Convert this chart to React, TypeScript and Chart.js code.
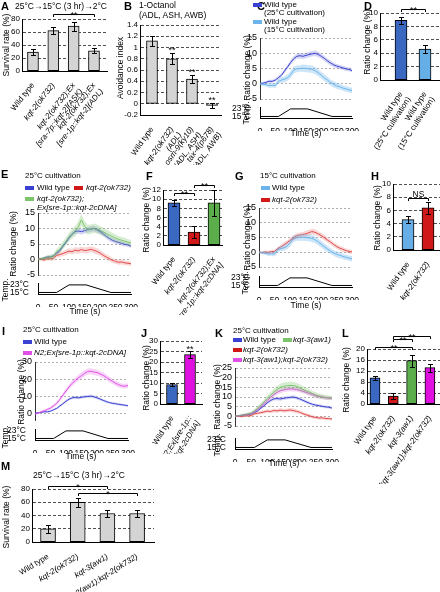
import React, { useEffect, useRef } from "react";
import { Chart, registerables } from "chart.js";

Chart.register(...registerables);

const FONT = '"Liberation Sans", Arial, Helvetica, sans-serif';
Chart.defaults.font.family = FONT;
Chart.defaults.font.size = 8;
Chart.defaults.color = "#000";

// ---------------- data ----------------
// Panel A
const aLabels = ["Wild type", "kqt-2(ok732)", ["kqt-2(ok732);Ex", "[sra-7p::kqt-2](ASK)"], ["kqt-2(ok732);Ex", "[sre-1p::kqt-2](ADL)"]];
const aItalic = [false, true, true, true];
const aValues = [29, 62, 69, 31];
const aErrors = [5, 5, 7, 4];
const aTicks = [0, 20, 40, 60, 80];
// Panel B
const bLabels = ["Wild type", ["kqt-2(ok732)", "(ADL)"], ["osm-9(ky10)", "(ADL, ASH)"], ["tax-4(p678)", "(ADL, AWB)"]];
const bItalic = [false, true, true, true];
const bValues = [1.12, 0.8, 0.44, -0.03];
const bErrors = [0.09, 0.1, 0.07, 0.05];
const bTicks = [-0.2, 0, 0.2, 0.4, 0.6, 0.8, 1, 1.2, 1.4];
// Panel D
const dLabels = [["Wild type", "(25°C cultivation)"], ["Wild type", "(15°C cultivation)"]];
const dItalic = [false, false];
const dValues = [8.9, 4.6];
const dErrors = [0.55, 0.6];
const dTicks = [0, 2, 4, 6, 8, 10];
// Panel F
const fLabels = ["Wild type", "kqt-2(ok732)", ["kqt-2(ok732);Ex", "[sre-1p::kqt-2cDNA]"]];
const fItalic = [false, true, true];
const fValues = [9.2, 2.8, 9.2];
const fErrors = [0.6, 1.3, 2.8];
const fTicks = [0, 2, 4, 6, 8, 10, 12];
// Panel H
const hLabels = ["Wild type", "kqt-2(ok732)"];
const hItalic = [false, true];
const hValues = [4.6, 6.4];
const hErrors = [0.5, 0.9];
const hTicks = [0, 2, 4, 6, 8, 10];
// Panel J
const jLabels = ["Wild type", ["N2;Ex[sre-1p::", "kqt-2cDNA]"]];
const jItalic = [false, true];
const jValues = [9.3, 23.5];
const jErrors = [0.5, 1.8];
const jTicks = [0, 5, 10, 15, 20, 25, 30];
// Panel L
const lLabels = ["Wild type", "kqt-2(ok732)", "kqt-3(aw1)", "kqt-3(aw1);kqt-2(ok732)"];
const lItalic = [false, true, true, true];
const lValues = [9.5, 2.9, 15.8, 13.2];
const lErrors = [0.6, 1.2, 2.2, 1.5];
const lTicks = [0, 4, 8, 12, 16, 20];
// Panel M
const mLabels = ["Wild type", "kqt-2(ok732)", "kqt-3(aw1)", "kqt-3(aw1);kqt-2(ok732)"];
const mItalic = [false, true, true, true];
const mValues = [20, 60, 43, 43];
const mErrors = [6, 7, 5, 5];
const mTicks = [0, 20, 40, 60, 80];

// Calcium imaging traces (time in s)
const timeS = [0, 10, 20, 30, 40, 50, 60, 70, 80, 90, 100, 110, 120, 130, 140, 150, 160, 170, 180, 190, 200, 210, 220, 230, 240, 250, 260, 270, 280, 290, 300];
const wt25Mean = [0, 0.2, 0.5, 0.8, 0.8, 1.2, 2.0, 2.8, 4.2, 5.5, 7.0, 8.2, 9.0, 9.2, 9.0, 9.3, 9.6, 9.8, 10.0, 9.6, 9.0, 8.3, 7.5, 6.8, 6.2, 5.8, 5.5, 5.2, 4.9, 4.7, 4.3];
const wt25Sem = [0.3, 0.4, 0.4, 0.5, 0.5, 0.5, 0.6, 0.6, 0.7, 0.7, 0.8, 0.8, 0.8, 0.9, 0.9, 0.9, 0.9, 0.9, 0.9, 0.9, 0.8, 0.8, 0.8, 0.8, 0.7, 0.7, 0.7, 0.7, 0.7, 0.6, 0.6];
const wt15Mean = [0, -0.2, -0.3, -0.6, -0.5, -0.6, 0.8, 1.2, 1.5, 2.0, 3.0, 4.5, 4.9, 5.0, 5.1, 5.0, 4.9, 4.7, 4.3, 3.6, 2.8, 1.9, 1.2, 0.4, -0.2, -0.7, -1.0, -1.4, -1.7, -2.0, -2.2];
const wt15Sem = [0.3, 0.5, 0.6, 0.7, 0.7, 0.8, 0.8, 0.9, 1.0, 1.0, 1.1, 1.1, 1.1, 1.1, 1.2, 1.2, 1.2, 1.2, 1.2, 1.1, 1.1, 1.1, 1.1, 1.0, 1.0, 1.0, 1.0, 0.9, 0.9, 0.9, 0.9];
const kqt2Mean = [0, 0.1, -0.2, 0.3, 0.2, 0.4, 1.3, 1.6, 1.9, 2.3, 2.7, 2.5, 3.0, 2.8, 3.2, 2.9, 3.0, 3.3, 3.0, 2.6, 2.1, 1.4, 0.8, 0.3, -0.3, -0.6, -0.9, -0.8, -1.1, -1.2, -1.4];
const kqt2Sem = [0.3, 0.4, 0.5, 0.6, 0.6, 0.7, 0.7, 0.8, 0.8, 0.9, 0.9, 0.9, 1.0, 1.0, 1.0, 1.0, 1.0, 1.0, 1.0, 1.0, 0.9, 0.9, 0.9, 0.9, 0.8, 0.8, 0.8, 0.8, 0.8, 0.7, 0.7];
const rescueMean = [0, 0.2, 0.4, 0.6, 0.8, 1.0, 2.5, 3.2, 4.5, 5.8, 7.2, 8.3, 9.2, 10.5, 12.8, 10.8, 9.6, 9.8, 10.1, 9.8, 9.4, 8.9, 8.4, 7.9, 7.4, 6.9, 6.5, 6.2, 5.9, 5.6, 5.3];
const rescueSem = [0.3, 0.5, 0.6, 0.7, 0.8, 0.9, 1.0, 1.1, 1.2, 1.3, 1.4, 1.5, 1.6, 1.8, 2.0, 1.8, 1.6, 1.5, 1.5, 1.5, 1.4, 1.4, 1.3, 1.3, 1.2, 1.2, 1.1, 1.1, 1.1, 1.0, 1.0];
const kqt2c15Mean = [0, -0.1, 0.1, 0.0, 0.2, 0.3, 1.2, 1.8, 2.5, 3.2, 4.0, 4.8, 5.5, 5.8, 6.0, 6.2, 6.6, 7.0, 6.8, 6.3, 5.7, 5.0, 4.2, 3.5, 2.7, 2.0, 1.4, 1.0, 0.6, 0.3, 0.1];
const kqt2c15Sem = [0.3, 0.4, 0.5, 0.5, 0.6, 0.6, 0.7, 0.7, 0.8, 0.8, 0.8, 0.9, 0.9, 0.9, 0.9, 1.0, 1.0, 1.0, 1.0, 0.9, 0.9, 0.9, 0.9, 0.8, 0.8, 0.8, 0.8, 0.8, 0.7, 0.7, 0.7];
const n2oxMean = [-0.5, 0.0, 0.8, 1.5, 2.2, 3.0, 4.3, 5.8, 8.0, 10.6, 13.0, 15.4, 17.5, 19.2, 20.8, 22.0, 23.4, 24.4, 24.6, 24.1, 23.8, 23.0, 22.2, 21.0, 19.8, 18.6, 17.5, 16.7, 16.0, 15.8, 16.2];
const n2oxSem = [0.4, 0.5, 0.6, 0.7, 0.8, 0.9, 1.0, 1.1, 1.2, 1.3, 1.4, 1.5, 1.6, 1.7, 1.7, 1.8, 1.8, 1.8, 1.8, 1.8, 1.7, 1.7, 1.7, 1.6, 1.6, 1.5, 1.5, 1.5, 1.4, 1.4, 1.4];
const kqt3Mean = [0, 0.3, 0.6, 0.9, 1.2, 1.6, 2.8, 4.2, 5.8, 7.5, 9.3, 11.0, 12.6, 14.0, 15.0, 15.5, 15.8, 16.0, 15.9, 15.5, 14.8, 14.0, 13.2, 12.5, 11.8, 11.0, 10.5, 10.1, 9.8, 9.6, 9.5];
const kqt3Sem = [0.3, 0.5, 0.6, 0.7, 0.8, 0.9, 1.0, 1.1, 1.2, 1.3, 1.5, 1.6, 1.7, 1.8, 1.9, 2.0, 2.0, 2.0, 1.9, 1.9, 1.8, 1.7, 1.6, 1.5, 1.4, 1.4, 1.3, 1.3, 1.2, 1.2, 1.2];
const dblMean = [0, 0.2, 0.5, 0.8, 1.1, 1.4, 2.4, 3.6, 5.0, 6.6, 8.2, 9.8, 11.2, 12.4, 13.2, 13.7, 14.0, 14.2, 14.1, 13.9, 13.5, 13.0, 12.4, 11.8, 11.2, 10.6, 10.2, 9.9, 9.6, 9.4, 9.3];
const dblSem = [0.3, 0.4, 0.5, 0.6, 0.7, 0.8, 0.8, 0.9, 1.0, 1.0, 1.1, 1.1, 1.2, 1.2, 1.2, 1.2, 1.2, 1.2, 1.2, 1.2, 1.1, 1.1, 1.1, 1.1, 1.0, 1.0, 1.0, 1.0, 1.0, 0.9, 0.9];
const ratioTicks = [-5, 0, 5, 10, 15];
const iTicks = [0, 10, 20, 30];
const kTicks = [-5, 0, 5, 10, 15, 20, 25];
// Temperature program
const timeTicks = [0, 50, 100, 150, 200, 250, 300];
const tempTime = [0, 60, 100, 155, 235, 300];
const tempValue = [15, 15, 23, 23, 15, 15];
const tempTicks = [15, 23];

// ---------------- colours ----------------
const COL = {
  wt25: "#3a42d2", wt25Band: "rgba(58,66,210,0.22)",
  wt15: "#6cb4ea", wt15Band: "rgba(108,180,234,0.35)",
  red: "#e24848", redBand: "rgba(226,72,72,0.22)",
  green: "#7cc46a", greenBand: "rgba(124,196,106,0.3)",
  mag: "#e050e6", magBand: "rgba(224,80,230,0.25)",
  barBlue: "#3a68c0", barLight: "#66aee6", barRed: "#d01818", barGreen: "#5cad4c", barMag: "#e010e0", barGray: "#d4d4d4",
};

// ---------------- helpers ----------------
type Box = { x0: number; x1: number; y0: number; y1: number; ml: number; mt: number; mr: number; mb: number };
type Bracket = { from: number; to: number; value: number; text: string };
type Star = { index: number; value: number; text: string };

const fixY = (box: Box) => (s: any) => { s.width = box.ml; s.paddingTop = 0; s.paddingBottom = 0; };
const fixX = (box: Box) => (s: any) => { s.height = box.mb; s.paddingLeft = 0; s.paddingRight = 0; };
const setTicks = (vals: number[]) => (s: any) => { s.ticks = vals.map((v) => ({ value: v })); };

function barConfig(o: {
  box: Box; labels: any[]; italic: boolean[]; values: number[]; errors: number[]; colors: string[];
  xMin: number; xMax: number; yMin: number; yMax: number; yTicks: number[]; rotation: number; thickness: number;
  brackets?: Bracket[]; stars?: Star[];
}) {
  const box = o.box;
  const annot = {
    id: "annot",
    afterDatasetsDraw(chart: any) {
      const ctx = chart.ctx; const xs = chart.scales.x; const ys = chart.scales.y;
      ctx.save();
      ctx.strokeStyle = "#000"; ctx.fillStyle = "#000"; ctx.lineWidth = 1;
      o.values.forEach((v, i) => {
        const x = Math.round(xs.getPixelForValue(i)) + 0.5;
        const yt = Math.round(ys.getPixelForValue(v + o.errors[i])) + 0.5;
        const yb = Math.round(ys.getPixelForValue(v - o.errors[i])) + 0.5;
        ctx.beginPath();
        ctx.moveTo(x, yt); ctx.lineTo(x, yb);
        ctx.moveTo(x - 2.5, yt); ctx.lineTo(x + 2.5, yt);
        ctx.moveTo(x - 2.5, yb); ctx.lineTo(x + 2.5, yb);
        ctx.stroke();
      });
      ctx.textAlign = "center"; ctx.textBaseline = "alphabetic";
      (o.brackets || []).forEach((b) => {
        const y = Math.round(ys.getPixelForValue(b.value)) + 0.5;
        const xa = Math.round(xs.getPixelForValue(b.from)) + 0.5;
        const xb = Math.round(xs.getPixelForValue(b.to)) + 0.5;
        ctx.beginPath();
        ctx.moveTo(xa, y + 2.5); ctx.lineTo(xa, y); ctx.lineTo(xb, y); ctx.lineTo(xb, y + 2.5);
        ctx.stroke();
        const star = b.text.indexOf("*") >= 0;
        ctx.font = `${star ? 9 : 8.5}px ${FONT}`;
        ctx.fillText(b.text, (xa + xb) / 2, star ? y + 3 : y - 1.5);
      });
      (o.stars || []).forEach((s) => {
        ctx.font = `9px ${FONT}`;
        ctx.fillText(s.text, xs.getPixelForValue(s.index), ys.getPixelForValue(s.value) + 3);
      });
      ctx.restore();
    },
  };
  return {
    type: "bar",
    data: {
      datasets: [{
        data: o.values.map((v, i) => ({ x: i, y: v })),
        backgroundColor: o.colors, borderColor: "#000", borderWidth: 1, borderSkipped: false, barThickness: o.thickness,
      }],
    },
    options: {
      animation: false, responsive: false, events: [],
      layout: { padding: { left: 0, top: box.mt, right: box.mr, bottom: 0 } },
      plugins: { legend: { display: false }, tooltip: { enabled: false } },
      scales: {
        x: {
          type: "linear", min: o.xMin, max: o.xMax, offset: false, bounds: "data",
          grid: { display: false }, border: { display: true, color: "#000", width: 1 },
          afterBuildTicks: setTicks(o.labels.map((_, i) => i)), afterFit: fixX(box),
          ticks: {
            autoSkip: false, minRotation: o.rotation, maxRotation: o.rotation, padding: 2,
            callback: (v: number) => o.labels[v],
            font: (c: any) => ({ family: FONT, size: 8, style: o.italic[c.index] ? "italic" : "normal" }),
          },
        },
        y: {
          min: o.yMin, max: o.yMax, afterBuildTicks: setTicks(o.yTicks), afterFit: fixY(box),
          grid: { color: "#222", lineWidth: 0.8, drawTicks: false },
          border: { display: true, color: "#000", width: 1, dash: [3, 2] },
          ticks: { autoSkip: false, padding: 2, font: { size: 8 }, callback: (v: number) => String(v) },
        },
      },
    },
    plugins: [annot],
  };
}

type Series = { mean: number[]; sem: number[]; line: string; band: string };

function traceConfig(box: Box, series: Series[], yMin: number, yMax: number, yTicks: number[]) {
  const datasets: any[] = [];
  series.forEach((s) => {
    datasets.push({ data: timeS.map((t, i) => ({ x: t, y: s.mean[i] + s.sem[i] })), borderColor: "rgba(0,0,0,0)", borderWidth: 0, pointRadius: 0, backgroundColor: s.band, fill: "+1" });
    datasets.push({ data: timeS.map((t, i) => ({ x: t, y: s.mean[i] - s.sem[i] })), borderColor: "rgba(0,0,0,0)", borderWidth: 0, pointRadius: 0, fill: false });
  });
  series.forEach((s) => {
    datasets.push({ data: timeS.map((t, i) => ({ x: t, y: s.mean[i] })), borderColor: s.line, borderWidth: 1, pointRadius: 0, fill: false });
  });
  return {
    type: "line",
    data: { datasets },
    options: {
      animation: false, responsive: false, events: [],
      layout: { padding: { left: 0, top: box.mt, right: box.mr, bottom: box.mb } },
      plugins: { legend: { display: false }, tooltip: { enabled: false } },
      scales: {
        x: { type: "linear", min: 0, max: 300, display: false },
        y: {
          min: yMin, max: yMax, afterBuildTicks: setTicks(yTicks), afterFit: fixY(box),
          grid: { color: "#9a9a9a", lineWidth: 0.8, drawTicks: false },
          border: { display: true, color: "#333", width: 1, dash: [2, 2] },
          ticks: { autoSkip: false, padding: 3, font: { size: 9 } },
        },
      },
    },
  };
}

function tempConfig(box: Box) {
  return {
    type: "line",
    data: { datasets: [{ data: tempTime.map((t, i) => ({ x: t, y: tempValue[i] })), borderColor: "#000", borderWidth: 1, pointRadius: 0, fill: false }] },
    options: {
      animation: false, responsive: false, events: [],
      layout: { padding: { left: 0, top: box.mt, right: box.mr, bottom: 0 } },
      plugins: { legend: { display: false }, tooltip: { enabled: false } },
      scales: {
        x: {
          type: "linear", min: 0, max: 300, afterBuildTicks: setTicks(timeTicks), afterFit: fixX(box),
          grid: { display: false }, border: { display: true, color: "#000", width: 1 },
          ticks: { padding: 1, autoSkip: false, minRotation: 0, maxRotation: 0, font: { size: 8.5 } },
        },
        y: {
          min: 13.4, max: 25, afterBuildTicks: setTicks(tempTicks), afterFit: fixY(box),
          grid: { display: false }, border: { display: true, color: "#000", width: 1 },
          ticks: { autoSkip: false, padding: 1, callback: (v: number) => `${v}°C`, font: { size: 8.5 } },
        },
      },
    },
  };
}

function ChartCanvas({ box, config }: { box: Box; config: any }) {
  const ref = useRef<HTMLCanvasElement>(null);
  useEffect(() => {
    const chart = new Chart(ref.current as HTMLCanvasElement, config);
    return () => chart.destroy();
  }, []);
  const left = box.x0 - box.ml;
  const top = box.y0 - box.mt;
  const w = box.x1 - box.x0 + box.ml + box.mr;
  const h = box.y1 - box.y0 + box.mt + box.mb;
  return <canvas ref={ref} width={w} height={h} style={{ position: "absolute", left, top, width: w, height: h }} />;
}

function T({ x, y, s = 8, b, i, r, c, children }: { x: number; y: number; s?: number; b?: boolean; i?: boolean; r?: boolean; c?: boolean; children: React.ReactNode }) {
  const style: React.CSSProperties = {
    position: "absolute", left: x, top: y, fontSize: s, fontWeight: b ? "bold" : "normal", fontStyle: i ? "italic" : "normal",
    whiteSpace: "nowrap", lineHeight: 1,
    transform: r ? "translate(-50%, -50%) rotate(-90deg)" : c ? "translate(-50%, -50%)" : "translateY(-50%)",
  };
  return <div style={style}>{children}</div>;
}

function Sw({ x, y, color }: { x: number; y: number; color: string }) {
  return <div style={{ position: "absolute", left: x, top: y - 2, width: 9, height: 4, background: color }} />;
}

// ---------------- boxes ----------------
const boxA: Box = { x0: 22, x1: 107, y0: 19, y1: 71, ml: 22, mt: 19, mr: 3, mb: 92 };
const boxB: Box = { x0: 140, x1: 221, y0: 25, y1: 115, ml: 24, mt: 25, mr: 2, mb: 50 };
const boxD: Box = { x0: 380, x1: 440, y0: 13, y1: 80, ml: 30, mt: 13, mr: 0, mb: 85 };
const boxF: Box = { x0: 163, x1: 222, y0: 190, y1: 245, ml: 30, mt: 14, mr: 2, mb: 70 };
const boxH: Box = { x0: 393, x1: 440, y0: 184, y1: 250, ml: 30, mt: 20, mr: 0, mb: 50 };
const boxJ: Box = { x0: 160, x1: 202, y0: 341, y1: 404, ml: 30, mt: 12, mr: 2, mb: 50 };
const boxL: Box = { x0: 367, x1: 440, y0: 349, y1: 404, ml: 30, mt: 20, mr: 0, mb: 80 };
const boxM: Box = { x0: 32, x1: 154, y0: 489, y1: 542, ml: 32, mt: 12, mr: 2, mb: 50 };

const boxC: Box = { x0: 260, x1: 352, y0: 38, y1: 99, ml: 30, mt: 5, mr: 3, mb: 3 };
const boxCt: Box = { x0: 260, x1: 352, y0: 107, y1: 118, ml: 30, mt: 3, mr: 10, mb: 13 };
const boxE: Box = { x0: 38, x1: 131, y0: 213, y1: 275, ml: 30, mt: 5, mr: 3, mb: 3 };
const boxEt: Box = { x0: 38, x1: 131, y0: 283, y1: 294, ml: 30, mt: 3, mr: 10, mb: 13 };
const boxG: Box = { x0: 259, x1: 352, y0: 208, y1: 267, ml: 30, mt: 5, mr: 3, mb: 3 };
const boxGt: Box = { x0: 259, x1: 352, y0: 276, y1: 287, ml: 30, mt: 3, mr: 10, mb: 13 };
const boxI: Box = { x0: 35, x1: 128, y0: 362, y1: 420, ml: 30, mt: 5, mr: 3, mb: 3 };
const boxIt: Box = { x0: 35, x1: 128, y0: 429, y1: 440, ml: 30, mt: 3, mr: 10, mb: 13 };
const boxK: Box = { x0: 235, x1: 332, y0: 368, y1: 426, ml: 30, mt: 5, mr: 3, mb: 3 };
const boxKt: Box = { x0: 235, x1: 332, y0: 438, y1: 449, ml: 30, mt: 3, mr: 10, mb: 13 };

// ---------------- configs ----------------
const cfgA = barConfig({ box: boxA, labels: aLabels, italic: aItalic, values: aValues, errors: aErrors, colors: aValues.map(() => COL.barGray),
  xMin: -0.54, xMax: 3.64, yMin: 0, yMax: 80, yTicks: aTicks, rotation: 52, thickness: 11,
  brackets: [{ from: 1, to: 3, value: 87.5, text: "**" }] });
const cfgB = barConfig({ box: boxB, labels: bLabels, italic: bItalic, values: bValues, errors: bErrors, colors: bValues.map(() => COL.barGray),
  xMin: -0.6, xMax: 3.45, yMin: -0.2, yMax: 1.4, yTicks: bTicks, rotation: 55, thickness: 11,
  stars: [{ index: 1, value: 0.95, text: "**" }, { index: 2, value: 0.56, text: "**" }, { index: 3, value: 0.07, text: "**" }] });
const cfgD = barConfig({ box: boxD, labels: dLabels, italic: dItalic, values: dValues, errors: dErrors, colors: [COL.barBlue, COL.barLight],
  xMin: -0.875, xMax: 1.625, yMin: 0, yMax: 10, yTicks: dTicks, rotation: 57, thickness: 12,
  brackets: [{ from: 0, to: 1, value: 10.6, text: "**" }] });
const cfgF = barConfig({ box: boxF, labels: fLabels, italic: fItalic, values: fValues, errors: fErrors, colors: [COL.barBlue, COL.barRed, COL.barGreen],
  xMin: -0.55, xMax: 2.4, yMin: 0, yMax: 12, yTicks: fTicks, rotation: 52, thickness: 12,
  brackets: [{ from: 0, to: 1, value: 11.3, text: "**" }, { from: 1, to: 2, value: 13.1, text: "**" }] });
const cfgH = barConfig({ box: boxH, labels: hLabels, italic: hItalic, values: hValues, errors: hErrors, colors: [COL.barLight, COL.barRed],
  xMin: -0.75, xMax: 1.6, yMin: 0, yMax: 10, yTicks: hTicks, rotation: 55, thickness: 12,
  brackets: [{ from: 0, to: 1, value: 7.9, text: "NS" }] });
const cfgJ = barConfig({ box: boxJ, labels: jLabels, italic: jItalic, values: jValues, errors: jErrors, colors: [COL.barBlue, COL.barMag],
  xMin: -0.667, xMax: 1.667, yMin: 0, yMax: 30, yTicks: jTicks, rotation: 58, thickness: 11,
  stars: [{ index: 1, value: 26.3, text: "**" }] });
const cfgL = barConfig({ box: boxL, labels: lLabels, italic: lItalic, values: lValues, errors: lErrors, colors: [COL.barBlue, COL.barRed, COL.barGreen, COL.barMag],
  xMin: -0.436, xMax: 3.55, yMin: 0, yMax: 20, yTicks: lTicks, rotation: 55, thickness: 10,
  brackets: [{ from: 0, to: 2, value: 20.7, text: "**" }, { from: 1, to: 2, value: 23.6, text: "**" }, { from: 1, to: 3, value: 24.8, text: "**" }] });
const cfgM = barConfig({ box: boxM, labels: mLabels, italic: mItalic, values: mValues, errors: mErrors, colors: mValues.map(() => COL.barGray),
  xMin: -0.54, xMax: 3.57, yMin: 0, yMax: 80, yTicks: mTicks, rotation: 32, thickness: 15,
  brackets: [{ from: 0, to: 2, value: 84.5, text: "*" }, { from: 1, to: 3, value: 74, text: "*" }] });

const sWt25: Series = { mean: wt25Mean, sem: wt25Sem, line: COL.wt25, band: COL.wt25Band };
const sWt15: Series = { mean: wt15Mean, sem: wt15Sem, line: COL.wt15, band: COL.wt15Band };
const sKqt2: Series = { mean: kqt2Mean, sem: kqt2Sem, line: COL.red, band: COL.redBand };
const sRescue: Series = { mean: rescueMean, sem: rescueSem, line: COL.green, band: COL.greenBand };
const sKqt2c15: Series = { mean: kqt2c15Mean, sem: kqt2c15Sem, line: COL.red, band: COL.redBand };
const sN2ox: Series = { mean: n2oxMean, sem: n2oxSem, line: COL.mag, band: COL.magBand };
const sKqt3: Series = { mean: kqt3Mean, sem: kqt3Sem, line: COL.green, band: COL.greenBand };
const sDbl: Series = { mean: dblMean, sem: dblSem, line: COL.mag, band: COL.magBand };

const cfgC = traceConfig(boxC, [sWt15, sWt25], -5, 15, ratioTicks);
const cfgE = traceConfig(boxE, [sRescue, sKqt2, sWt25], -5, 15, ratioTicks);
const cfgG = traceConfig(boxG, [sWt15, sKqt2c15], -5, 15, ratioTicks);
const cfgI = traceConfig(boxI, [sN2ox, sWt25], -4, 30, iTicks);
const cfgK = traceConfig(boxK, [sKqt3, sDbl, sKqt2, sWt25], -5, 25, kTicks);

export default function App() {
  return (
    <div style={{ position: "absolute", left: 0, top: 0, width: 440, height: 592, background: "#fff", overflow: "hidden", fontFamily: FONT, color: "#000" }}>
      <ChartCanvas box={boxA} config={cfgA} />
      <ChartCanvas box={boxB} config={cfgB} />
      <ChartCanvas box={boxD} config={cfgD} />
      <ChartCanvas box={boxF} config={cfgF} />
      <ChartCanvas box={boxH} config={cfgH} />
      <ChartCanvas box={boxJ} config={cfgJ} />
      <ChartCanvas box={boxL} config={cfgL} />
      <ChartCanvas box={boxM} config={cfgM} />
      <ChartCanvas box={boxC} config={cfgC} />
      <ChartCanvas box={boxCt} config={tempConfig(boxCt)} />
      <ChartCanvas box={boxE} config={cfgE} />
      <ChartCanvas box={boxEt} config={tempConfig(boxEt)} />
      <ChartCanvas box={boxG} config={cfgG} />
      <ChartCanvas box={boxGt} config={tempConfig(boxGt)} />
      <ChartCanvas box={boxI} config={cfgI} />
      <ChartCanvas box={boxIt} config={tempConfig(boxIt)} />
      <ChartCanvas box={boxK} config={cfgK} />
      <ChartCanvas box={boxKt} config={tempConfig(boxKt)} />

      {/* A */}
      <T x={1} y={6} s={11} b>A</T>
      <T x={15} y={6} s={8.5}>25°C→15°C (3 hr)→2°C</T>
      <T x={6} y={45} s={8.5} r>Survival rate (%)</T>
      {/* B */}
      <T x={124} y={6} s={11} b>B</T>
      <T x={139} y={5} s={8.5}>1-Octanol</T>
      <T x={139} y={15} s={8.5}>(ADL, ASH, AWB)</T>
      <T x={120} y={68} s={8.5} r>Avoidance index</T>
      {/* C */}
      <T x={257} y={6} s={11} b>C</T>
      <Sw x={253} y={5} color={COL.wt25} />
      <T x={264} y={5}>Wild type</T>
      <T x={264} y={13}>(25°C cultivation)</T>
      <Sw x={253} y={22} color={COL.wt15} />
      <T x={264} y={22}>Wild type</T>
      <T x={264} y={30}>(15°C cultivation)</T>
      <T x={247} y={68} s={8.5} r>Ratio change (%)</T>
      <T x={246} y={113} s={8.5} r>Temp.</T>
      <T x={306} y={133} s={8.5} c>Time (s)</T>
      {/* D */}
      <T x={364} y={6} s={11} b>D</T>
      <T x={367} y={42} s={8.5} r>Ratio change (%)</T>
      {/* E */}
      <T x={1} y={174} s={11} b>E</T>
      <T x={25} y={176}>25°C cultivation</T>
      <Sw x={25} y={188} color={COL.wt25} />
      <T x={37} y={188}>Wild type</T>
      <Sw x={74} y={188} color={COL.barRed} />
      <T x={86} y={188} i>kqt-2(ok732)</T>
      <Sw x={25} y={199} color={COL.green} />
      <T x={37} y={199} i>kqt-2(ok732);</T>
      <T x={37} y={208} i>Ex[sre-1p::kqt-2cDNA]</T>
      <T x={13} y={244} s={8.5} r>Ratio change (%)</T>
      <T x={5} y={290} s={8.5} r>Temp.</T>
      <T x={85} y={311} s={8.5} c>Time (s)</T>
      {/* F */}
      <T x={146} y={176} s={11} b>F</T>
      <T x={146} y={220} s={8.5} r>Ratio change (%)</T>
      {/* G */}
      <T x={235} y={176} s={11} b>G</T>
      <T x={260} y={176}>15°C cultivation</T>
      <Sw x={261} y={188} color={COL.wt15} />
      <T x={272} y={188}>Wild type</T>
      <Sw x={261} y={200} color={COL.barRed} />
      <T x={272} y={200} i>kqt-2(ok732)</T>
      <T x={247} y={238} s={8.5} r>Ratio change (%)</T>
      <T x={245} y={283} s={8.5} r>Temp.</T>
      <T x={306} y={305} s={8.5} c>Time (s)</T>
      {/* H */}
      <T x={371} y={176} s={11} b>H</T>
      <T x={377} y={218} s={8.5} r>Ratio change (%)</T>
      {/* I */}
      <T x={2} y={331} s={11} b>I</T>
      <T x={23} y={330}>25°C cultivation</T>
      <Sw x={23} y={342} color={COL.wt25} />
      <T x={34} y={342}>Wild type</T>
      <Sw x={23} y={353} color={COL.mag} />
      <T x={34} y={353} i>N2;Ex[sre-1p::kqt-2cDNA]</T>
      <T x={21} y={392} s={8.5} r>Ratio change (%)</T>
      <T x={5} y={437} s={8.5} r>Temp.</T>
      <T x={81} y={456} s={8.5} c>Time (s)</T>
      {/* J */}
      <T x={141} y={333} s={11} b>J</T>
      <T x={146} y={378} s={8.5} r>Ratio change (%)</T>
      {/* K */}
      <T x={215} y={333} s={11} b>K</T>
      <T x={233} y={331}>25°C cultivation</T>
      <Sw x={233} y={340} color={COL.wt25} />
      <T x={243} y={340}>Wild type</T>
      <Sw x={283} y={340} color={COL.green} />
      <T x={293} y={340} i>kqt-3(aw1)</T>
      <Sw x={233} y={350} color={COL.barRed} />
      <T x={243} y={350} i>kqt-2(ok732)</T>
      <Sw x={233} y={360} color={COL.mag} />
      <T x={243} y={360} i>kqt-3(aw1);kqt-2(ok732)</T>
      <T x={217} y={397} s={8.5} r>Ratio change (%)</T>
      <T x={217} y={445} s={8.5} r>Temp.</T>
      <T x={284} y={463} s={8.5} c>Time (s)</T>
      {/* L */}
      <T x={342} y={333} s={11} b>L</T>
      <T x={346} y={380} s={8.5} r>Ratio change (%)</T>
      {/* M */}
      <T x={1} y={466} s={11} b>M</T>
      <T x={33} y={475} s={8.5}>25°C→15°C (3 hr)→2°C</T>
      <T x={6} y={517} s={8.5} r>Survival rate (%)</T>
    </div>
  );
}
